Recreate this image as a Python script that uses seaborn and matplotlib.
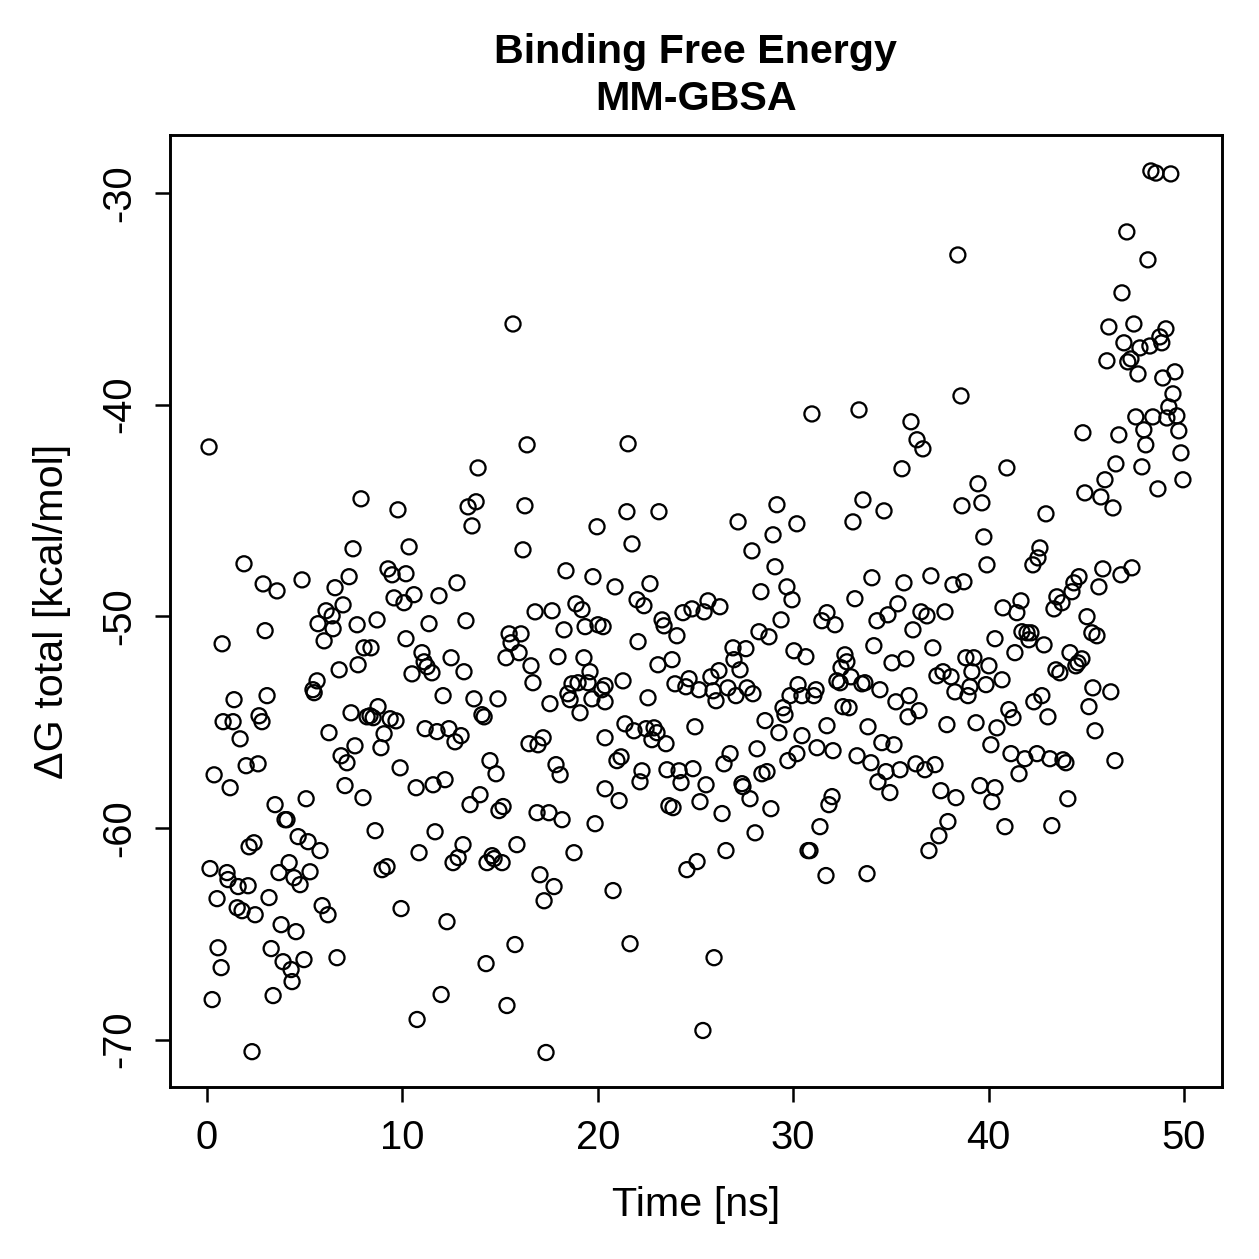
import matplotlib
matplotlib.use("Agg")
import matplotlib.pyplot as plt
import seaborn as sns
import pandas as pd

# MM-GBSA binding free energy per frame
time_ns = [
    0.10, 1.89, 2.87, 3.58, 4.86, 6.55, 7.27, 7.47, 7.88, 9.26, 9.47, 9.57, 9.77,
    6.09, 6.40, 5.68, 6.45, 5.99, 6.96, 7.68, 8.70, 8.03, 8.39,
    0.77, 2.97, 1.38, 0.82, 1.33, 2.66, 2.81, 1.69, 2.00, 2.61, 0.36, 1.18, 3.48, 5.07,
    3.99, 4.09, 4.66, 5.17, 5.78, 2.15, 2.40, 0.15, 1.02, 1.07, 1.59, 2.10, 3.68, 4.20,
    4.45, 4.76, 5.27, 0.51, 1.54, 1.79, 2.46, 3.17, 3.79, 4.55, 5.89, 6.19, 0.56, 0.72,
    3.28, 3.89, 4.30, 4.35, 4.96, 6.65, 0.26, 3.38, 2.30,
    8.60, 8.96, 9.21, 9.93, 6.24, 7.06, 7.98, 5.63, 5.42, 5.48, 6.76, 7.73, 7.37, 8.19,
    8.34, 8.50, 8.75, 9.37, 9.67, 9.06, 8.90, 7.57, 6.86, 7.16, 9.88, 3.07,
    # 10 - 20 ns
    10.34, 10.18, 10.08, 10.59, 11.87, 12.79, 11.36, 13.25, 13.56, 13.36, 13.77, 13.87,
    15.66, 16.38, 16.27, 16.17, 18.37, 16.79, 17.66, 18.88, 19.19, 19.96, 19.75, 20.01, 20.27,
    10.18, 15.46, 16.07, 15.56, 15.97, 15.30, 18.27, 19.35, 11.00, 11.11, 11.26, 11.51,
    12.49, 13.15, 10.49, 16.58, 16.68, 17.96, 19.29, 19.60, 18.47, 18.68, 18.99, 19.50,
    18.58, 19.70, 20.21, 20.37, 20.37, 19.09, 17.55, 12.08, 13.66, 14.89, 14.07, 14.18,
    11.16, 11.77, 12.38, 13.00, 12.69, 16.48, 16.94, 17.20, 20.37, 10.70, 11.57, 12.18,
    14.48, 14.79, 17.86, 18.07, 20.37, 13.46, 13.97, 14.94, 15.15, 16.89, 17.50, 18.17,
    19.86, 11.67, 10.85, 13.10, 12.59, 12.85, 14.33, 14.59, 14.69, 15.10, 15.86, 18.78,
    17.04, 17.76, 17.25, 12.28, 15.76, 14.28, 11.98, 15.35, 10.75, 17.35,
    # 20 - 30 ns
    21.55, 21.49, 23.13, 21.75, 27.18, 29.17, 28.97, 27.89, 30.19, 29.07, 20.88, 22.67,
    22.01, 22.36, 23.29, 24.36, 24.82, 25.64, 25.44, 26.25, 28.35, 29.68, 29.94, 29.38,
    23.39, 24.05, 22.06, 28.25, 28.76, 26.92, 27.58, 26.97, 27.28, 30.04, 23.08, 23.80,
    21.29, 22.57, 23.95, 24.67, 24.51, 25.18, 25.79, 26.20, 25.90, 26.05, 26.66, 27.07,
    27.64, 27.94, 30.25, 29.84, 29.48, 29.58, 28.56, 29.27, 30.45, 24.97, 21.39, 21.85,
    22.47, 22.88, 23.03, 22.77, 23.49, 20.98, 21.19, 22.26, 22.16, 23.54, 24.16, 24.87,
    24.26, 25.54, 26.46, 26.77, 28.15, 29.73, 30.19, 28.40, 28.66, 27.38, 27.43, 27.79,
    21.09, 23.64, 23.85, 25.23, 26.36, 28.86, 28.05, 26.56, 24.56, 25.08, 20.78, 21.65,
    25.95, 25.38,
    # 30 - 40 ns
    38.43, 38.59, 30.96, 33.37, 36.03, 36.34, 36.64, 35.57, 39.46, 33.57, 34.65, 38.64,
    39.66, 33.06, 39.76, 39.92, 34.03, 35.67, 37.05, 38.18, 38.74, 33.16, 35.36, 31.73,
    31.47, 32.14, 34.85, 34.29, 36.54, 36.85, 37.77,
    36.13, 34.13, 30.65, 32.65, 32.75, 32.45, 32.96, 32.24, 32.40, 33.52, 33.67, 35.06,
    35.77, 37.15, 38.84, 39.25, 39.15, 40.02, 40.33, 37.36, 37.67, 38.08, 38.28, 39.05,
    38.95, 39.87, 34.44, 35.26, 35.93, 36.44, 35.88, 30.45, 31.06, 31.17, 32.55, 32.86,
    31.73, 33.83, 37.87, 39.36, 40.43, 31.22, 32.04, 33.27, 33.98, 34.54, 35.16, 34.75,
    35.47, 34.34, 34.95, 36.28, 36.74, 37.26, 37.56, 38.33, 39.56, 40.12, 40.33, 40.17,
    31.99, 31.83, 31.37, 37.92, 37.46, 36.95, 30.76, 30.86, 31.68, 33.78,
    # 40 - 50 ns
    48.31, 48.57, 49.33, 47.08, 48.16, 46.83, 46.16, 47.44, 49.08, 48.77, 48.87, 46.93,
    47.75, 48.26, 46.06, 47.13, 47.29, 47.65, 48.92, 49.54, 49.44, 49.23, 47.54, 48.41,
    49.13, 49.64, 47.95, 49.74, 44.83, 46.67, 48.05, 49.85, 40.94, 46.52, 47.85, 49.95,
    45.96, 44.93, 45.75, 46.37, 48.67, 42.94, 42.63, 42.53, 42.27, 43.50, 43.76, 43.35,
    44.27, 44.37, 44.63, 45.85, 45.65, 46.78, 47.34, 40.74, 41.45, 41.66, 45.04,
    41.35, 41.71, 41.97, 42.17, 42.07, 42.84, 45.29, 45.55, 44.17, 44.78, 44.58, 44.47,
    43.45, 43.65, 40.69, 45.34, 46.26, 42.73, 42.32, 45.14, 41.04, 41.25, 43.04, 45.45,
    41.15, 41.86, 42.48, 43.14, 43.81, 43.96, 46.47, 41.56, 44.06, 40.84, 43.24,
]

delta_g = [
    -42.00, -47.52, -48.47, -48.80, -48.28, -48.65, -48.13, -46.81, -44.45, -47.76, -48.04, -49.13, -44.97,
    -49.74, -49.98, -50.35, -50.59, -51.16, -49.46, -50.40, -50.17, -51.49, -51.49,
    -51.30, -50.68, -53.94, -54.98, -54.98, -54.70, -54.98, -55.79, -57.06, -56.97, -57.49, -58.10, -58.90, -58.62,
    -59.61, -59.61, -60.41, -60.65, -61.07, -60.89, -60.70, -61.92, -62.11, -62.44, -62.77, -62.73, -62.11, -61.64,
    -62.35, -62.68, -62.07, -63.34, -63.77, -63.91, -64.10, -63.29, -64.57, -64.90, -63.67, -64.10, -65.66, -66.60,
    -65.70, -66.32, -66.69, -67.26, -66.22, -66.13, -68.11, -67.92, -70.57,
    -60.13, -61.97, -61.83, -63.81, -55.50, -58.00, -58.57, -53.05, -53.47, -53.61, -52.53, -52.29, -54.56, -54.75,
    -54.70, -54.79, -54.27, -54.84, -54.94, -55.55, -56.21, -56.12, -56.59, -56.92, -57.16, -53.75,
    # 10 - 20 ns
    -46.72, -47.99, -49.36, -48.98, -49.03, -48.42, -50.35, -50.21, -45.73, -44.83, -44.59, -42.99,
    -36.19, -41.90, -44.78, -46.86, -47.85, -49.79, -49.74, -49.41, -49.69, -45.77, -48.13, -50.40, -50.49,
    -51.06, -50.83, -50.83, -51.25, -51.72, -51.96, -50.64, -50.49, -51.72, -52.15, -52.38, -52.67,
    -51.96, -52.62, -52.72, -52.34, -53.14, -51.91, -51.96, -52.62, -53.66, -53.19, -53.14, -53.14,
    -53.94, -53.90, -53.47, -53.28, -54.04, -54.56, -54.13, -53.75, -53.90, -53.90, -54.65, -54.75,
    -55.31, -55.45, -55.31, -55.64, -55.93, -56.02, -56.07, -55.74, -55.74, -58.10, -57.96, -57.72,
    -56.82, -57.44, -57.01, -57.49, -58.15, -58.90, -58.43, -59.18, -58.99, -59.28, -59.28, -59.61,
    -59.80, -60.18, -61.17, -60.79, -61.64, -61.40, -61.64, -61.31, -61.45, -61.64, -60.79, -61.17,
    -62.21, -62.77, -63.44, -64.43, -65.51, -66.41, -67.87, -68.39, -69.05, -70.61,
    # 20 - 30 ns
    -41.85, -45.06, -45.06, -46.58, -45.54, -44.73, -46.15, -46.91, -45.63, -47.66, -48.61, -48.46,
    -49.22, -49.50, -50.17, -49.83, -49.65, -49.27, -49.79, -49.55, -48.84, -48.61, -49.22, -50.17,
    -50.45, -50.92, -51.20, -50.73, -50.97, -51.49, -51.53, -52.05, -52.53, -51.63, -52.29, -52.05,
    -53.05, -53.85, -53.19, -52.95, -53.33, -53.47, -52.86, -52.57, -53.52, -53.99, -53.38, -53.75,
    -53.38, -53.66, -53.23, -53.75, -54.32, -54.65, -54.93, -55.50, -55.64, -55.22, -55.08, -55.41,
    -55.31, -55.27, -55.50, -55.83, -56.02, -56.82, -56.64, -57.30, -57.82, -57.25, -57.30, -57.20,
    -57.86, -57.96, -56.97, -56.49, -56.26, -56.82, -56.49, -57.44, -57.34, -57.91, -58.05, -58.62,
    -58.71, -58.95, -59.04, -58.76, -59.32, -59.09, -60.23, -61.07, -61.97, -61.59, -62.96, -65.47,
    -66.13, -69.57,
    # 30 - 40 ns
    -32.93, -39.59, -40.44, -40.25, -40.81, -41.66, -42.09, -43.03, -43.74, -44.50, -45.02, -44.78,
    -44.64, -45.54, -46.25, -47.57, -48.18, -48.42, -48.09, -48.51, -48.37, -49.17, -49.41, -49.83,
    -50.21, -50.40, -49.93, -50.21, -49.79, -49.98, -49.79,
    -50.64, -51.39, -51.91, -51.82, -52.15, -52.43, -52.86, -53.05, -53.14, -53.19, -53.14, -52.20,
    -52.01, -51.49, -51.96, -51.96, -52.62, -52.34, -51.06, -52.81, -52.62, -52.86, -53.57, -53.33,
    -53.75, -53.23, -53.47, -54.04, -53.75, -54.46, -54.75, -53.75, -53.75, -53.47, -54.27, -54.32,
    -55.17, -55.22, -55.12, -55.03, -55.27, -56.21, -56.35, -56.59, -56.92, -55.97, -56.07, -57.34,
    -57.25, -57.82, -58.33, -56.97, -57.25, -57.01, -58.24, -58.57, -58.00, -56.07, -58.10, -58.76,
    -58.52, -58.90, -59.94, -59.70, -60.37, -61.07, -61.07, -61.07, -62.25, -62.16,
    # 40 - 50 ns
    -28.96, -29.06, -29.10, -31.84, -33.16, -34.72, -36.33, -36.19, -36.42, -36.80, -37.08, -37.08,
    -37.32, -37.23, -37.93, -37.98, -37.84, -38.55, -38.74, -38.45, -39.49, -40.11, -40.58, -40.58,
    -40.63, -40.53, -41.19, -41.24, -41.33, -41.43, -41.90, -42.28, -42.99, -42.80, -42.94, -43.55,
    -43.55, -44.17, -44.36, -44.88, -43.98, -45.16, -46.77, -47.24, -47.57, -49.08, -49.36, -49.65,
    -48.84, -48.42, -48.13, -47.76, -48.61, -48.04, -47.71, -49.60, -49.83, -49.27, -50.02,
    -51.72, -50.73, -50.78, -50.78, -51.11, -51.35, -50.78, -50.92, -51.72, -52.01, -52.20, -52.34,
    -52.53, -52.67, -53.00, -53.38, -53.57, -53.75, -54.04, -54.27, -54.41, -54.79, -54.75, -55.41,
    -56.49, -56.73, -56.49, -56.73, -56.78, -56.92, -56.82, -57.44, -58.62, -59.94, -59.89,
]

x_ticks = [0, 10, 20, 30, 40, 50]
y_ticks = [-70, -60, -50, -40, -30]

df = pd.DataFrame({"time": time_ns, "dG": delta_g})

sns.set_style("ticks")
plt.rcParams["font.family"] = ["Liberation Sans", "DejaVu Sans"]
plt.rcParams["text.color"] = "black"
plt.rcParams["axes.labelcolor"] = "black"

fig = plt.figure(figsize=(1259 / 300, 1259 / 300), dpi=300)
ax = fig.add_axes([0.135, 0.1366, 0.8356, 0.7562])

sns.scatterplot(data=df, x="time", y="dG", ax=ax, marker="o", s=13,
                fc="none", ec="black", linewidth=0.55, legend=False)

ax.set_xlim(-1.9, 51.95)
ax.set_ylim(-72.24, -27.26)
ax.set_xticks(x_ticks)
ax.set_yticks(y_ticks)
ax.set_xticklabels([str(t) for t in x_ticks], fontsize=9.6)
ax.set_yticklabels([str(t) for t in y_ticks], fontsize=9.6, rotation=90, va="center")
ax.tick_params(axis="both", length=3.6, width=0.6, color="black", pad=4, labelcolor="black")

for sp in ax.spines.values():
    sp.set_visible(True)
    sp.set_color("black")
    sp.set_linewidth(0.7)

ax.set_xlabel("Time [ns]", fontsize=9.9, labelpad=7, color="black")
ax.set_ylabel("\u0394G total [kcal/mol]", fontsize=9.9, labelpad=7, color="black")
ax.set_title("Binding Free Energy\nMM-GBSA", fontsize=9.9, fontweight="bold", pad=6,
             linespacing=1.3, color="black")

fig.savefig("out.png", dpi=300, facecolor="white")
